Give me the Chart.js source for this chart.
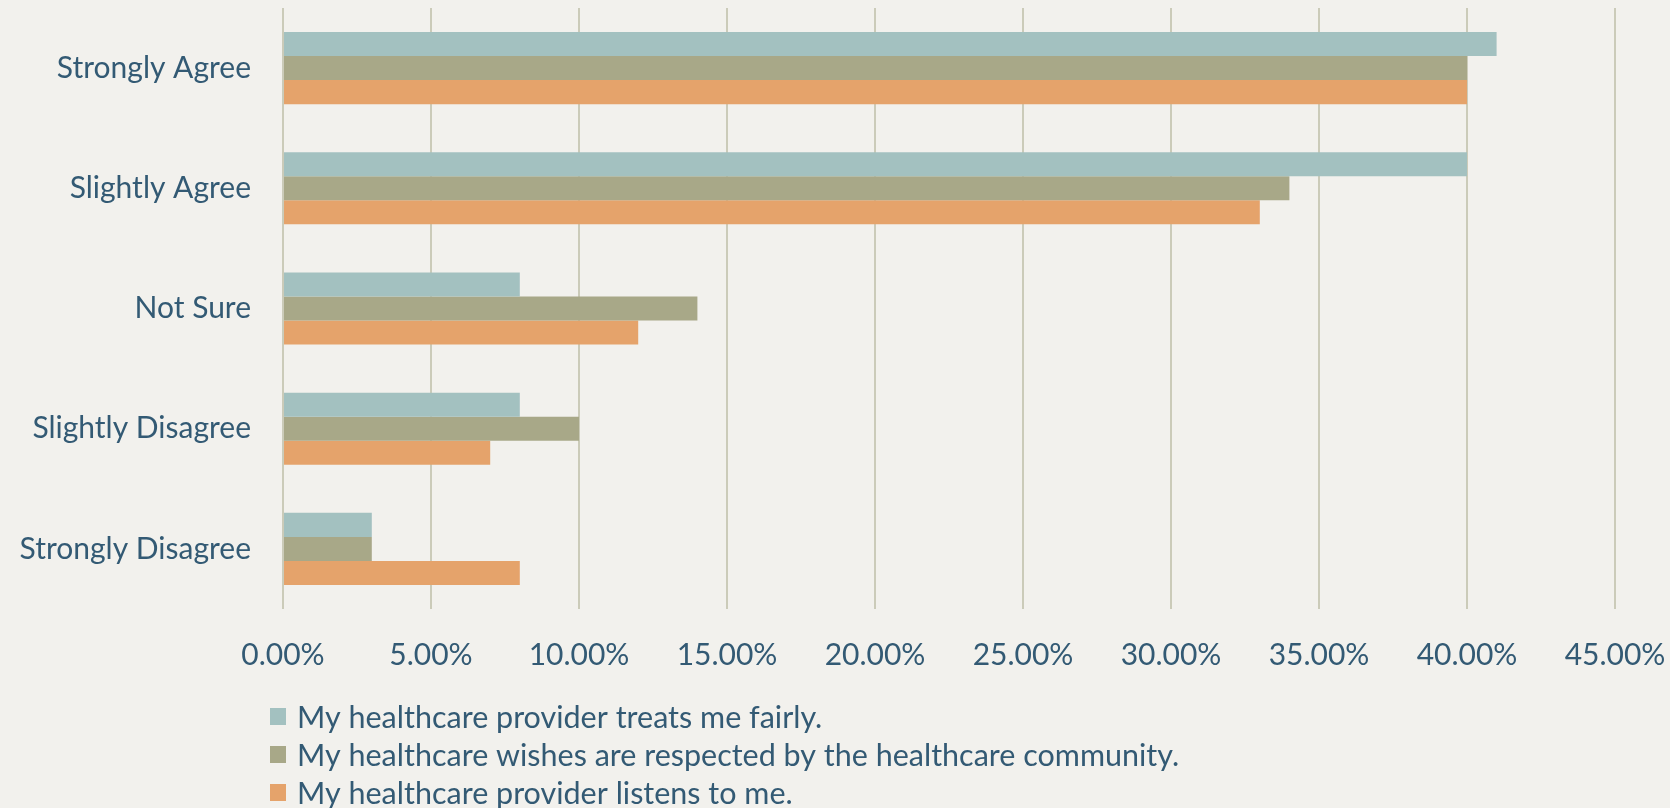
<!DOCTYPE html>
<html>
<head>
<meta charset="utf-8">
<script src="https://cdn.jsdelivr.net/npm/chart.js@4/dist/chart.umd.min.js"></script>
<style>
  html, body { margin: 0; padding: 0; background: #F2F1ED; }
  #wrap { width: 1670px; height: 808px; position: relative; }
</style>
</head>
<body>
<div id="wrap"><canvas id="chart" width="1670" height="808"></canvas></div>
<script>
// Survey responses, percent of respondents per answer
const categories = ["Strongly Agree", "Slightly Agree", "Not Sure", "Slightly Disagree", "Strongly Disagree"];
const seriesNames = [
  "My healthcare provider treats me fairly.",
  "My healthcare wishes are respected by the healthcare community.",
  "My healthcare provider listens to me."
];
const treatsFairly = [41, 40, 8, 8, 3];
const wishesRespected = [40, 34, 14, 10, 3];
const listensToMe = [40, 33, 12, 7, 8];
const tickValues = [0, 5, 10, 15, 20, 25, 30, 35, 40, 45];

const colors = ["#A3C1C0", "#A8A888", "#E5A36B"];
const textColor = "#335A74";
const fontFamily = "Lato, 'Open Sans', sans-serif";
const fontSize = 30;

// Vertical legend list drawn under the axis
const stackedLegend = {
  id: "stackedLegend",
  afterDraw(chart) {
    const ctx = chart.ctx;
    ctx.save();
    ctx.font = "30.5px " + fontFamily;
    ctx.textBaseline = "middle";
    ctx.textAlign = "left";
    chart.data.datasets.forEach((ds, i) => {
      const y = 717 + i * 38;
      ctx.fillStyle = ds.backgroundColor;
      ctx.fillRect(270, y - 9, 16, 17);
      ctx.fillStyle = textColor;
      ctx.fillText(ds.label, 297, y + 1);
    });
    ctx.restore();
  }
};

const values = [treatsFairly, wishesRespected, listensToMe];
new Chart(document.getElementById("chart"), {
  type: "bar",
  data: {
    labels: categories,
    datasets: seriesNames.map((name, i) => ({
      label: name,
      data: values[i],
      backgroundColor: colors[i],
      borderWidth: 0,
      barPercentage: 1.0,
      categoryPercentage: 0.6
    }))
  },
  options: {
    indexAxis: "y",
    responsive: false,
    animation: false,
    layout: { autoPadding: false, padding: { top: 8, right: 55, bottom: 119, left: 0 } },
    plugins: {
      legend: { display: false },
      tooltip: { enabled: false }
    },
    scales: {
      x: {
        min: 0,
        max: 45,
        afterBuildTicks(axis) { axis.ticks = tickValues.map(v => ({ value: v })); },
        afterFit(axis) {
          axis.height = 80;
          // the end labels may spill into the side margins
          axis.paddingLeft = 0;
          axis.paddingRight = 0;
        },
        ticks: {
          color: textColor,
          font: { family: fontFamily, size: fontSize },
          padding: 28,
          callback: v => Number(v).toFixed(2) + "%"
        },
        grid: { color: "#CBCBB9", lineWidth: 2, drawTicks: false },
        border: { display: false }
      },
      y: {
        afterFit(axis) {
          axis.width = 283;
          // category labels sit mid-band, so no extra room above/below the plot
          axis.paddingTop = 0;
          axis.paddingBottom = 0;
        },
        ticks: {
          color: textColor,
          font: { family: fontFamily, size: fontSize },
          padding: 24
        },
        grid: { display: false },
        border: { display: false }
      }
    }
  },
  plugins: [stackedLegend]
});
</script>
</body>
</html>
